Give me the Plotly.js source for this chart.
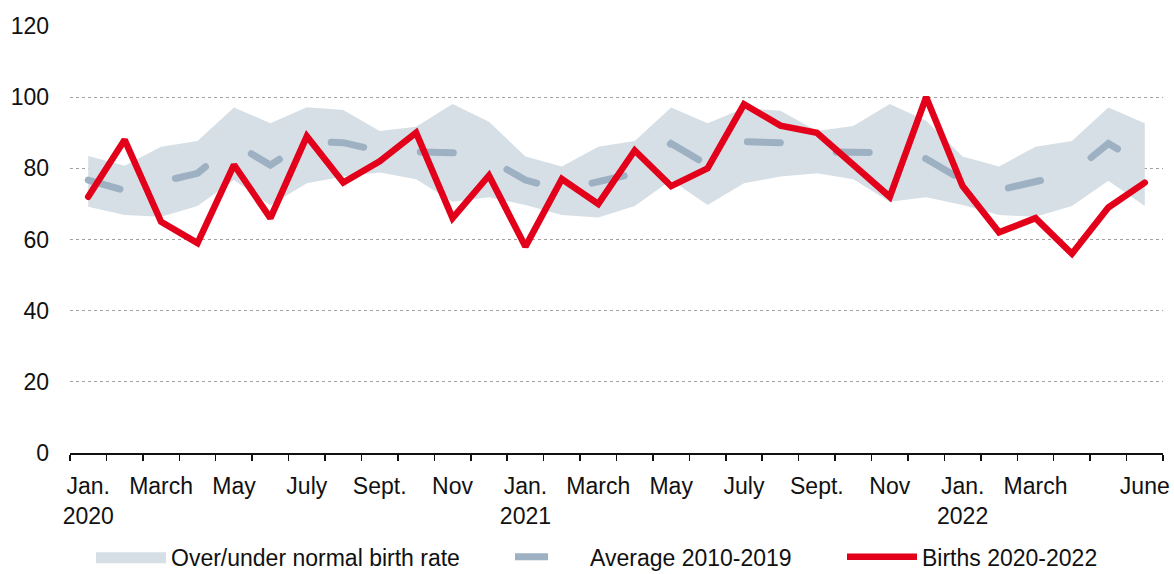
<!DOCTYPE html>
<html>
<head>
<meta charset="utf-8">
<script src="https://cdn.plot.ly/plotly-3.0.1.min.js"></script>
<style>
html,body{margin:0;padding:0;background:#fff;}
#chart{width:1174px;height:574px;}
.scatterlayer .js-line{stroke-linecap:round;}
.legend .js-line{stroke-linecap:round;}
.legend .legendfill path{transform-box:fill-box;transform-origin:center;transform:scaleY(1.8);}
</style>
</head>
<body>
<div id="chart"></div>
<script>
const months = ["Jan 2020","Feb 2020","Mar 2020","Apr 2020","May 2020","Jun 2020","Jul 2020","Aug 2020","Sep 2020","Oct 2020","Nov 2020","Dec 2020",
  "Jan 2021","Feb 2021","Mar 2021","Apr 2021","May 2021","Jun 2021","Jul 2021","Aug 2021","Sep 2021","Oct 2021","Nov 2021","Dec 2021",
  "Jan 2022","Feb 2022","Mar 2022","Apr 2022","May 2022","Jun 2022"];
const tickLabels = ["Jan.<br>2020","","March","","May","","July","","Sept.","","Nov","",
  "Jan.<br>2021","","March","","May","","July","","Sept.","","Nov","",
  "Jan.<br>2022","","March","","","June"];
const births = [72,88,65,59,81,66,89,76,82,90,66,78, 58,77,70,85,75,80,98,92,90,81,72,100, 75,62,66,56,69,76];
const average = [76.7,73.8,76.2,78.6,87,80.9,87.5,87.2,84.9,84.8,84.4,82.6, 76.7,73.9,76.2,78.6,87,80.9,87.5,87.2,84.7,84.6,84.4,82.7, 76.7,73.9,76.2,78.6,87,80.9];
const upper = [83.5,80.7,86.1,87.7,97.1,92.7,97.2,96.4,90.5,91.7,98.1,93.1, 83.3,80.5,86.1,87.7,97.1,92.7,96.9,96.2,90.5,91.9,98.1,93.4, 83.3,80.5,86.1,87.7,97.1,92.7];
const lower = [69.2,66.9,66.4,69.4,76.7,69.6,75.8,77.7,78.8,76.9,70.6,71.9, 69.7,66.9,66.2,69.4,76.7,69.7,75.8,77.7,78.6,76.9,70.6,71.9, 69.7,66.9,66.4,69.4,76.5,69.4];

const FONT = '"Liberation Sans", Arial, Helvetica, sans-serif';
const FS = 23;

const traces = [
  {x: months, y: lower, type: 'scatter', mode: 'lines', line: {width: 0, color: 'rgba(0,0,0,0)'}, showlegend: false, hoverinfo: 'skip'},
  {x: months, y: upper, type: 'scatter', mode: 'lines', fill: 'tonexty', fillcolor: '#d6dfe6', line: {width: 0, color: '#d6dfe6'}, name: 'Over/under normal birth rate', legend: 'legend'},
  {x: months, y: average, type: 'scatter', mode: 'lines', line: {width: 7, color: '#9db1c3', dash: '33px,57px'}, name: 'Average 2010-2019', legend: 'legend2'},
  {x: months, y: births, type: 'scatter', mode: 'lines', line: {width: 6.5, color: '#e2001a'}, name: 'Births 2020-2022', legend: 'legend3'}
];

function leg(xpx) {
  return {orientation: 'h', xref: 'container', yref: 'container', x: xpx / 1174, xanchor: 'left',
          y: 0.03, yanchor: 'middle', itemwidth: 70, font: {size: FS, family: FONT, color: '#111'}, bgcolor: 'rgba(0,0,0,0)'};
}

const layout = {
  width: 1174, height: 574,
  margin: {l: 70, r: 11, t: 26, b: 121},
  paper_bgcolor: '#fff', plot_bgcolor: '#fff',
  font: {family: FONT, size: FS, color: '#111'},
  showlegend: true,
  legend: leg(91),
  legend2: leg(510),
  legend3: leg(842),
  xaxis: {
    type: 'category', categoryorder: 'array', categoryarray: months,
    range: [-0.5, 29.5],
    tickmode: 'array', tickvals: months, ticktext: tickLabels,
    tickson: 'boundaries', ticks: 'outside', ticklen: 6, tickwidth: 1.5, tickcolor: '#111',
    showline: true, linecolor: '#111', linewidth: 2,
    showgrid: false, zeroline: false, tickangle: 0,
    ticklabelstandoff: 11,
    fixedrange: true
  },
  yaxis: {
    range: [0, 120], tickvals: [0,20,40,60,80,100,120],
    showgrid: true, gridcolor: '#a0a0a0', griddash: 'dot', gridwidth: 1,
    zeroline: false, showline: false, ticks: '',
    ticklabelstandoff: 20,
    fixedrange: true
  }
};

Plotly.newPlot('chart', traces, layout, {displayModeBar: false, staticPlot: true});
</script>
</body>
</html>
